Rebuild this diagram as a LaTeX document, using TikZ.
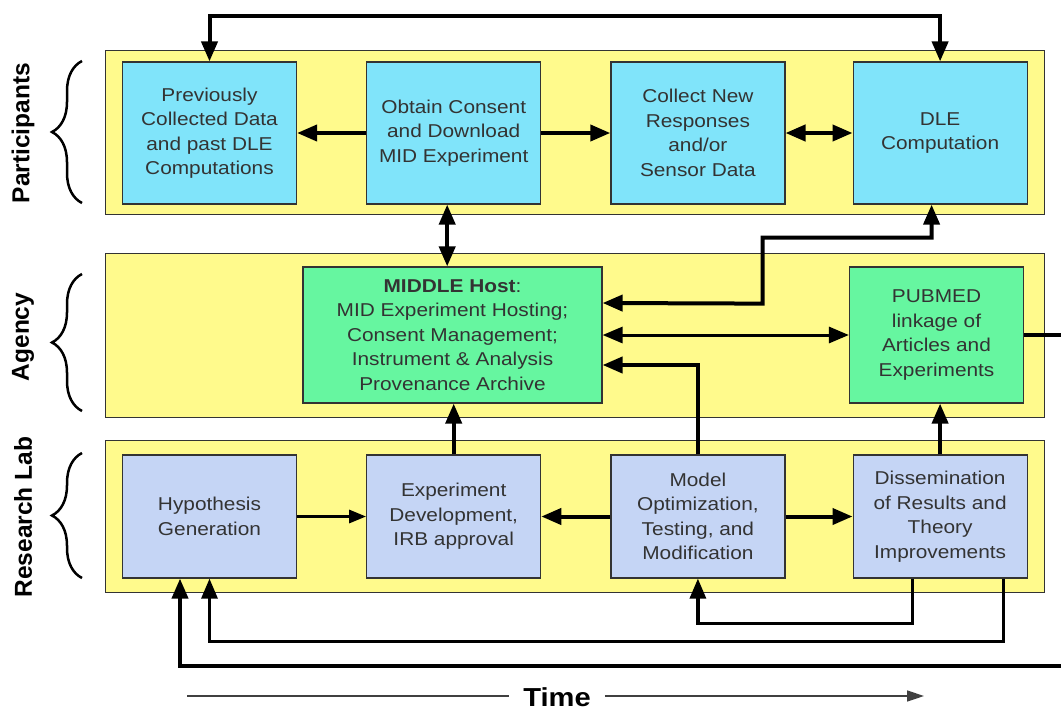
\documentclass[tikz,border=0pt]{standalone}
\usepackage{fontspec}
\setmainfont{Liberation Sans}[FakeStretch=1.12]
\newfontfamily\lanefamily{Liberation Sans}
\usetikzlibrary{positioning,arrows.meta,decorations.pathreplacing}

\definecolor{laneyellow}{RGB}{255,250,140}
\definecolor{partcyan}{RGB}{128,228,250}
\definecolor{aggreen}{RGB}{102,246,160}
\definecolor{lablav}{RGB}{197,213,245}
\definecolor{inkgray}{RGB}{51,51,51}

\newcommand\boxfont{\fontsize{18.6}{24.5}\selectfont}
\newcommand\lanefont{\lanefamily\bfseries\fontsize{24.5}{26}\selectfont}

\tikzset{
  big/.tip={Triangle[length=20pt,width=16pt]},
  small/.tip={Triangle[length=17pt,width=13pt]},
  lane/.style={fill=laneyellow, draw=inkgray, line width=1pt},
  box/.style={draw=inkgray, line width=1.2pt, align=center, text=inkgray, inner sep=0pt, font=\boxfont},
  partbox/.style={box, fill=partcyan, minimum width=174pt, minimum height=142pt},
  agbox/.style={box, fill=aggreen, minimum height=136pt},
  labbox/.style={box, fill=lablav, minimum width=174pt, minimum height=123pt},
  conn/.style={line width=4pt},
  connmid/.style={line width=3.2pt},
  connthin/.style={line width=3pt},
  lanebrace/.style={decorate, decoration={brace, amplitude=30pt}, line width=2.5pt},
  lanelabel/.style={rotate=90, font=\lanefont, text=black},
}

\begin{document}
\begin{tikzpicture}[x=1pt, y=-1pt]

    \useasboundingbox[fill=white] (0,0) rectangle (1061,710);

    % Lanes
    \draw[lane] (105,50) rectangle (1044,214); % participants
    \draw[lane] (105,253) rectangle (1044,417); % agency
    \draw[lane] (105,440) rectangle (1044,592); % research lab

    % Lane labels
    \node[lanelabel] (partlabel) at (23,133) {Participants};
    \node[lanelabel] (aglabel) at (23,337) {Agency};
    \node[lanelabel] (lablabel) at (23,517) {Research Lab};
    \draw[lanebrace] (82,203) -- (82,61);
    \draw[lanebrace] (82,411) -- (82,274);
    \draw[lanebrace] (82,578) -- (82,453);

    % Nodes
    \node[partbox] (prev) at (209.5,133) {Previously\\Collected Data\\and past DLE\\Computations}; % old data
    \node[partbox, right=69pt of prev] (obtain) {Obtain Consent\\and Download\\MID Experiment}; % consent
    \node[partbox, right=69pt of obtain] (collect) {Collect New\\Responses\\and/or\\Sensor Data}; % new data
    \node[partbox, right=67pt of collect] (dle) {DLE\\Computation}; % computation

    \node[agbox, minimum width=299pt] (middle) at (452.5,335) {\textbf{MIDDLE Host}:\\MID Experiment Hosting;\\Consent Management;\\Instrument \& Analysis\\Provenance Archive}; % host
    \node[agbox, minimum width=174pt] (pubmed) at (936.5,335) {PUBMED\\linkage of\\Articles and\\Experiments}; % linkage

    \node[labbox] (hyp) at (209.5,516.5) {Hypothesis\\Generation}; % hypothesis
    \node[labbox, right=69pt of hyp] (exp) {Experiment\\Development,\\IRB approval}; % experiment
    \node[labbox, right=69pt of exp] (model) {Model\\Optimization,\\Testing, and\\Modification}; % model
    \node[labbox, right=67pt of model] (diss) {Dissemination\\of Results and\\Theory\\Improvements}; % results

    % Edges
    \draw[conn, -big] (obtain) -- (prev);
    \draw[conn, -big] (obtain) -- (collect);
    \draw[conn, big-big] (collect) -- (dle);
    \draw[conn, big-big] (prev.north) -- ++(0,-45) -| (dle.north);
    \draw[conn, big-big] ([xshift=-6.5pt]obtain.south) -- ([xshift=-6.5pt]obtain.south |- middle.north);
    \draw[conn, big-big] ([xshift=-8.5pt]dle.south) -- ++(0,33) -| ++(-169,66) -- ([yshift=32pt]middle.east);
    \draw[connthin, big-big] (middle) -- (pubmed);
    \draw[conn, -big] (model.north) |- ([yshift=-30pt]middle.east);
    \draw[conn, -big] (exp.north) -- (exp.north |- middle.south);
    \draw[conn, -big] (diss.north) -- (diss.north |- pubmed.south);
    \draw[connthin, -small] (hyp) -- (exp);
    \draw[conn, -big] (model) -- (exp);
    \draw[conn, -big] (model) -- (diss);
    \draw[connmid, -big] ([xshift=-27.5pt]diss.south) -- ++(0,45) -| (model.south);
    \draw[connmid, -big] ([xshift=63.5pt]diss.south) -- ++(0,63) -| (hyp.south);
    \draw[conn, -big] (pubmed.east) -| ++(60,331) -| ([xshift=-29.5pt]hyp.south);

    % Time axis
    \node[font=\bfseries\fontsize{26}{28}\selectfont, inner xsep=14pt] (time) at (557,697) {Time};
    \coordinate (tstart) at (187,696);
    \coordinate (tend) at (924,696);
    \draw[black!75, line width=1.6pt] (tstart) -- (tstart -| time.west);
    \draw[black!75, line width=1.6pt, -{Triangle[length=17pt,width=11pt]}] (time.east |- tend) -- (tend);

\end{tikzpicture}
\end{document}
